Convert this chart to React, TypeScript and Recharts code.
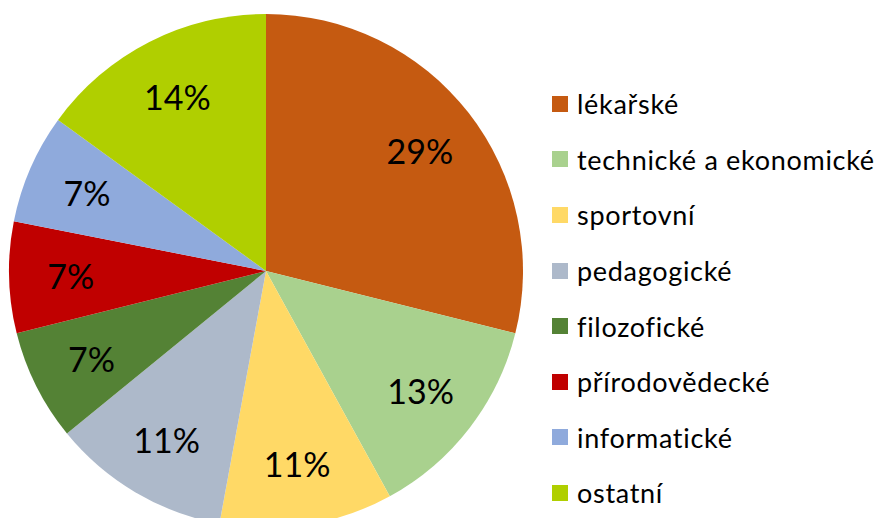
import React from 'react';
import { PieChart, Pie, Cell, Legend } from 'recharts';

const categories = [
  'lékařské',
  'technické a ekonomické',
  'sportovní',
  'pedagogické',
  'filozofické',
  'přírodovědecké',
  'informatické',
  'ostatní',
];
const shares = [28.9, 13.1, 10.9, 11.2, 7.0, 7.0, 6.9, 15.0];
const labels = ['29%', '13%', '11%', '11%', '7%', '7%', '7%', '14%'];
const colors = ['#C55A11', '#A9D18E', '#FFD966', '#ADB9CA', '#548235', '#C00000', '#8FAADC', '#B0CF00'];

const data = categories.map((name, i) => ({ name, value: shares[i] }));

const FONT = 'Lato, "Open Sans", sans-serif';
const RAD = Math.PI / 180;

const renderLabel = (props: any) => {
  const { cx, cy, midAngle, outerRadius, index } = props;
  const r = outerRadius * 0.76;
  const x = cx + r * Math.cos(-midAngle * RAD);
  const y = cy + r * Math.sin(-midAngle * RAD);
  return (
    <text x={x} y={y} fill="#000" textAnchor="middle" dominantBaseline="central" fontSize={34} fontFamily={FONT}>
      {labels[index]}
    </text>
  );
};

const LegendList = () => (
  <div style={{ fontFamily: FONT, fontSize: 27, letterSpacing: 0.7, color: '#000' }}>
    {categories.map((name, i) => (
      <div key={name} style={{ display: 'flex', alignItems: 'center', height: 55.6 }}>
        <span style={{ width: 16, height: 16, background: colors[i], marginRight: 9, display: 'inline-block' }} />
        <span>{name}</span>
      </div>
    ))}
  </div>
);

const App: React.FC = () => {
  return (
    <div style={{ position: 'absolute', left: 0, top: 0, background: '#fff' }}>
      <PieChart width={884} height={518} margin={{ top: 0, right: 0, bottom: 0, left: 0 }}>
        <Pie
          data={data}
          dataKey="value"
          nameKey="name"
          cx={266}
          cy={271}
          outerRadius={257}
          startAngle={90}
          endAngle={-270}
          stroke="none"
          label={renderLabel}
          labelLine={false}
          isAnimationActive={false}
        >
          {data.map((d, i) => (
            <Cell key={d.name} fill={colors[i]} />
          ))}
        </Pie>
        <Legend
          content={() => <LegendList />}
          wrapperStyle={{ position: 'absolute', left: 552, top: 76, width: 330 }}
        />
      </PieChart>
    </div>
  );
};

export default App;
